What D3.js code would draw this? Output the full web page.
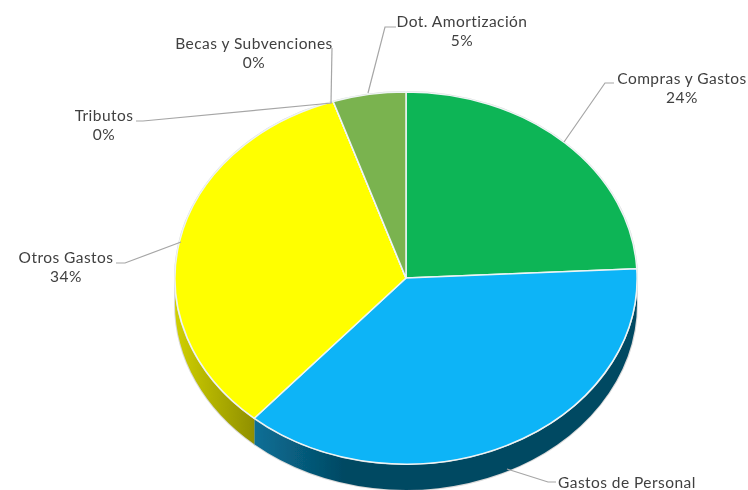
<!DOCTYPE html>
<html>
<head>
<meta charset="utf-8">
<script src="https://cdn.jsdelivr.net/npm/d3@7"></script>
<style>
  html, body { margin: 0; padding: 0; background: #fff; }
  svg { display: block; }
  text { font-family: Lato, "Open Sans", sans-serif; font-size: 15.5px; letter-spacing: 0.45px; fill: #404040; }
</style>
</head>
<body>
<svg></svg>
<script>
var categories = ["Compras y Gastos", "Gastos de Personal", "Otros Gastos", "Tributos", "Becas y Subvenciones", "Dot. Amortización"];
var values = [24.2, 37.2, 33.5, 0, 0, 5.1];
var colors = ["#0ab556", "#09b4f7", "#ffff00", "#c00000", "#7030a0", "#7ab350"];
// the Gastos de Personal label has its percentage cut off at the bottom of the picture
var showPercent = [true, false, true, true, true, true];

var width = 748, height = 490;
var cx = 406, cy = 278, rx = 231, ry = 186, depth = 26;

// label position and leader line for each slice
var labelX = [682, 558, 66, 104, 254, 462];
var labelY = [84, 488, 263, 121, 49, 27];
var leaders = [
  [[564, 142], [605, 83], [614, 83]],
  [[507, 469], [548, 482], [556, 482]],
  [[181, 242], [125, 263], [116, 263]],
  [[332, 103], [143, 121], [136, 121]],
  [[331, 103], [332, 48]],
  [[368, 93], [385, 27], [396, 27]]
];

var svg = d3.select("svg")
    .attr("width", width)
    .attr("height", height);

var defs = svg.append("defs");

defs.append("filter").attr("id", "soft")
    .append("feGaussianBlur").attr("stdDeviation", 0.35);

function sideGradient(id, x1, x2, stops) {
  var g = defs.append("linearGradient").attr("id", id)
      .attr("gradientUnits", "userSpaceOnUse")
      .attr("x1", x1).attr("x2", x2).attr("y1", 0).attr("y2", 0);
  stops.forEach(function(s, i) {
    g.append("stop").attr("offset", i / (stops.length - 1)).attr("stop-color", s);
  });
}
sideGradient("sideYellow", cx - rx, cx - rx + 80, ["#d0d000", "#8f8f00"]);
sideGradient("sideBlue", cx - 151, cx - 60, ["#0a6f96", "#034862"]);

var pie = d3.pie().sort(null).value(function(d) { return d; });
var slices = pie(values);

// unit circle arc, stretched to an ellipse by the group transform
var arc = d3.arc().innerRadius(0).outerRadius(1);

function px(a) { return cx + rx * Math.sin(a); }
function py(a) { return cy - ry * Math.cos(a); }

// visible front wall of a slice, between 90 and 270 degrees
function wall(d) {
  var a0 = Math.max(d.startAngle, Math.PI / 2),
      a1 = Math.min(d.endAngle, 3 * Math.PI / 2);
  if (a1 <= a0) return null;
  return "M" + px(a0) + "," + py(a0) +
    "A" + rx + "," + ry + " 0 0 1 " + px(a1) + "," + py(a1) +
    "L" + px(a1) + "," + (py(a1) + depth) +
    "A" + rx + "," + ry + " 0 0 0 " + px(a0) + "," + (py(a0) + depth) + "Z";
}

var sideFill = ["#034862", "url(#sideBlue)", "url(#sideYellow)", "none", "none", "none"];

var chart = svg.append("g").attr("filter", "url(#soft)");

chart.selectAll("path.rim")
    .data(slices)
  .enter().append("path")
    .attr("class", "rim")
    .attr("d", wall)
    .attr("fill", "none")
    .attr("stroke", "#d9d9d9")
    .attr("stroke-width", 2);

chart.selectAll("path.side")
    .data(slices)
  .enter().append("path")
    .attr("class", "side")
    .attr("d", wall)
    .attr("fill", function(d, i) { return sideFill[i]; });

var face = chart.append("g")
    .attr("transform", "translate(" + cx + "," + cy + ") scale(" + rx + "," + ry + ")");

face.append("ellipse")
    .attr("rx", 1).attr("ry", 1)
    .attr("fill", "none")
    .attr("stroke", "#d9d9d9")
    .attr("stroke-width", 2)
    .attr("vector-effect", "non-scaling-stroke");

face.selectAll("path.slice")
    .data(slices)
  .enter().append("path")
    .attr("class", "slice")
    .attr("d", arc)
    .attr("fill", function(d, i) { return colors[i]; })
    .attr("stroke", "#eef4f4")
    .attr("stroke-width", 1.5)
    .attr("vector-effect", "non-scaling-stroke");

var line = d3.line();

chart.selectAll("path.leader")
    .data(leaders)
  .enter().append("path")
    .attr("class", "leader")
    .attr("d", line)
    .attr("fill", "none")
    .attr("stroke", "#a6a6a6")
    .attr("stroke-width", 1.2);

categories.forEach(function(name, i) {
  var label = chart.append("text")
      .attr("class", "label")
      .attr("text-anchor", i == 1 ? "start" : "middle")
      .attr("y", labelY[i]);
  label.append("tspan").attr("x", labelX[i]).text(name);
  if (showPercent[i]) {
    label.append("tspan").attr("x", labelX[i]).attr("dy", 19).text(Math.round(values[i]) + "%");
  }
});
</script>
</body>
</html>
